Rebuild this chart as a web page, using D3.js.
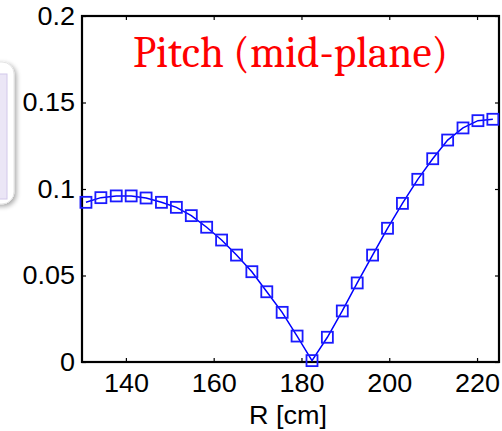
<!DOCTYPE html>
<html>
<head>
<meta charset="utf-8">
<script src="https://cdn.jsdelivr.net/npm/d3@7"></script>
<style>
  html, body { margin: 0; padding: 0; background: #ffffff; }
  svg { display: block; }
</style>
</head>
<body>
<svg id="chart" width="502" height="431"></svg>
<script>
// ---- data ----
const radius = [130.9, 134.3, 137.8, 141.2, 144.6, 148.1, 151.5, 154.9, 158.4, 161.8,
                165.2, 168.7, 172.1, 175.6, 179.0, 182.4, 185.9, 189.3, 192.7, 196.2,
                199.6, 203.0, 206.5, 209.9, 213.3, 216.8, 220.2, 223.6];
const pitch  = [0.0923, 0.0950, 0.0960, 0.0960, 0.0948, 0.0923, 0.0894, 0.0846, 0.0779, 0.0705,
                0.0618, 0.0522, 0.0406, 0.0287, 0.0150, 0.0008, 0.0143, 0.0295, 0.0457, 0.0618,
                0.0773, 0.0917, 0.1056, 0.1175, 0.1283, 0.1353, 0.1395, 0.1403];
const xTicks = [140, 160, 180, 200, 220];
const yTicks = [0, 0.05, 0.1, 0.15, 0.2];
const yTickLabels = ["0", "0.05", "0.1", "0.15", "0.2"];
const titleText = "Pitch (mid-plane)";
const xLabel = "R [cm]";

// ---- layout ----
const svg = d3.select("#chart");
const L = 82, R = 499, T = 16, B = 362;
const x = d3.scaleLinear().domain([130, 225]).range([L, R]);
const y = d3.scaleLinear().domain([0, 0.2]).range([B, T]);
const STRETCH = 1.08;
const FONT = "'Liberation Sans', Arial, sans-serif";

// decorative rounded box at left edge (partially visible)
const defs = svg.append("defs");
const f = defs.append("filter").attr("id", "shadow").attr("x", "-50%").attr("y", "-50%").attr("width", "200%").attr("height", "200%");
f.append("feGaussianBlur").attr("in", "SourceAlpha").attr("stdDeviation", 2.5);
f.append("feOffset").attr("dx", 2).attr("dy", 2).attr("result", "b");
f.append("feComponentTransfer").append("feFuncA").attr("type", "linear").attr("slope", 0.35);
const m = f.append("feMerge");
m.append("feMergeNode");
m.append("feMergeNode").attr("in", "SourceGraphic");

svg.append("rect").attr("x", -60).attr("y", 62).attr("width", 74).attr("height", 142)
  .attr("rx", 12).attr("fill", "#ffffff").attr("stroke", "#e4e4e4").attr("stroke-width", 1)
  .attr("filter", "url(#shadow)");
svg.append("rect").attr("x", -60).attr("y", 74).attr("width", 67).attr("height", 125)
  .attr("fill", "#ebe6f6").attr("stroke", "#d2c8ea").attr("stroke-width", 1);

// axes (ticks inward)
const gx = svg.append("g").attr("transform", `translate(0,${B})`)
  .call(d3.axisBottom(x).tickValues(xTicks).tickSizeInner(-4).tickSizeOuter(0).tickPadding(12).tickFormat(d3.format("d")));
const gy = svg.append("g").attr("transform", `translate(${L},0)`)
  .call(d3.axisLeft(y).tickValues(yTicks).tickSizeInner(-4).tickSizeOuter(0).tickPadding(7)
    .tickFormat((d, i) => yTickLabels[i]));
const gt = svg.append("g").attr("transform", `translate(0,${T})`)
  .call(d3.axisTop(x).tickValues(xTicks).tickSizeInner(-4).tickSizeOuter(0).tickFormat(""));
const gr = svg.append("g").attr("transform", `translate(${R},0)`)
  .call(d3.axisRight(y).tickValues(yTicks).tickSizeInner(-4).tickSizeOuter(0).tickFormat(""));

[gx, gy, gt, gr].forEach(g => {
  g.select(".domain").remove();
  g.selectAll(".tick line").attr("stroke", "#000").attr("stroke-width", 1.2);
  g.selectAll("text").attr("font-family", FONT).attr("font-size", 25).attr("fill", "#000");
});
[gx, gy].forEach(g => {
  g.selectAll("text").each(function () {
    const w = this.getComputedTextLength();
    d3.select(this).attr("textLength", w * STRETCH).attr("lengthAdjust", "spacingAndGlyphs");
  });
});

// frame
svg.append("rect").attr("x", L).attr("y", T).attr("width", R - L).attr("height", B - T)
  .attr("fill", "none").attr("stroke", "#000").attr("stroke-width", 2.2);

// line + markers
svg.append("path").datum(radius.map((r, i) => [r, pitch[i]]))
  .attr("fill", "none").attr("stroke", "#0000ff").attr("stroke-width", 1.5)
  .attr("d", d3.line().x(d => x(d[0])).y(d => y(d[1])));
const s = 11;
svg.append("g").selectAll("rect").data(radius.map((r, i) => [r, pitch[i]])).join("rect")
  .attr("x", d => x(d[0]) - s / 2).attr("y", d => y(d[1]) - s / 2)
  .attr("width", s).attr("height", s)
  .attr("fill", "none").attr("stroke", "#1a1aff").attr("stroke-width", 1.8);

// title
svg.append("text").attr("x", 133).attr("y", 67)
  .attr("font-family", "Cambria, 'Liberation Serif', 'DejaVu Serif', serif").attr("font-size", 43)
  .attr("fill", "#ff0000").attr("textLength", 315).attr("lengthAdjust", "spacingAndGlyphs")
  .text(titleText);

// x label
const xl = svg.append("text").attr("x", 288).attr("y", 424).attr("text-anchor", "middle")
  .attr("font-family", FONT).attr("font-size", 25).attr("fill", "#000").text(xLabel);
xl.attr("textLength", xl.node().getComputedTextLength() * STRETCH).attr("lengthAdjust", "spacingAndGlyphs");
</script>
</body>
</html>
